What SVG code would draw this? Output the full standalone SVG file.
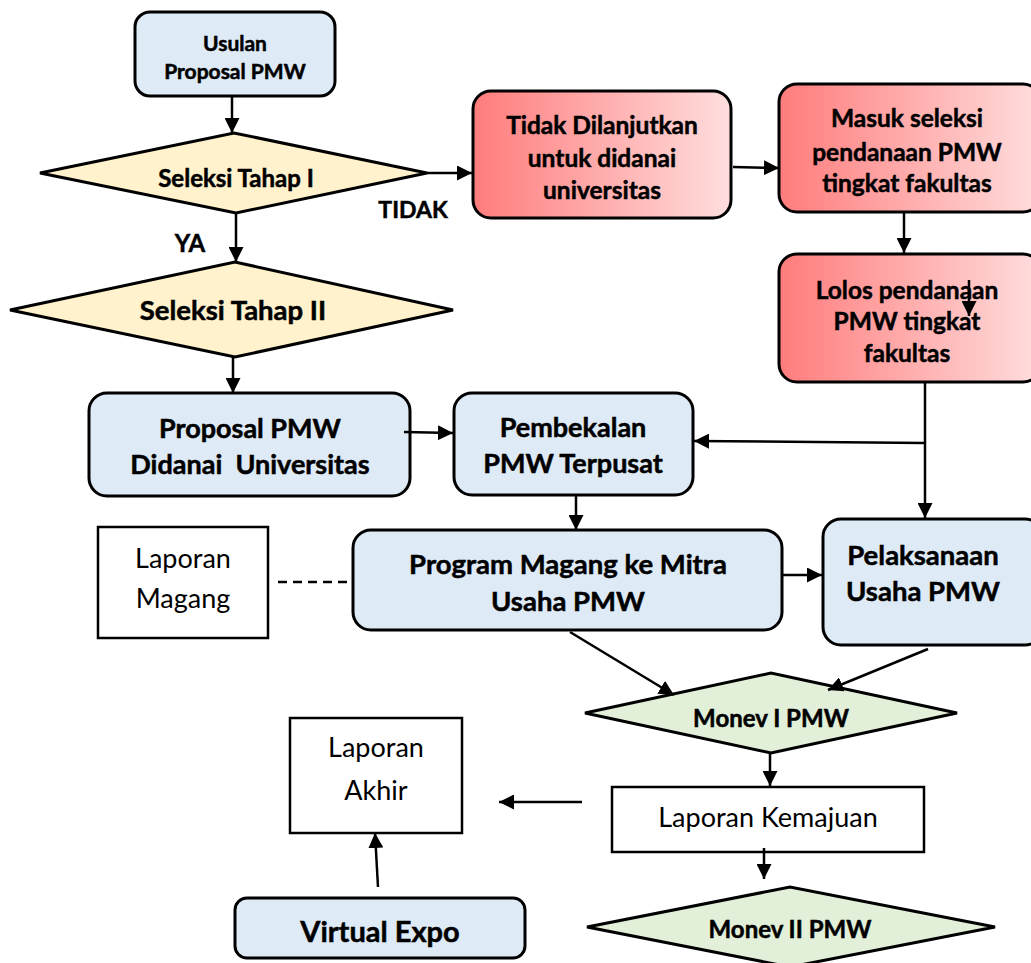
<svg xmlns="http://www.w3.org/2000/svg" width="1031" height="963" viewBox="0 0 1031 963">
<defs>
<linearGradient id="red" x1="0" y1="0" x2="1" y2="0">
<stop offset="0" stop-color="#ff7c7c"/>
<stop offset="1" stop-color="#ffdede"/>
</linearGradient>
<marker id="ah" viewBox="0 0 10 10" refX="10" refY="5" markerWidth="6" markerHeight="6" orient="auto" markerUnits="strokeWidth">
<path d="M0,0 L10,5 L0,10 z" fill="#000"/>
</marker>
</defs>
<style>
.b{fill:#deeaf6;stroke:#000;stroke-width:3}
.r{fill:url(#red);stroke:#000;stroke-width:3}
.y{fill:#fff2cc;stroke:#000;stroke-width:3}
.g{fill:#e2efd9;stroke:#000;stroke-width:3}
.w{fill:#fff;stroke:#000;stroke-width:2.5}
text{font-family:Lato,"Open Sans","Liberation Sans",sans-serif;text-anchor:middle;fill:#000}
.t{font-weight:bold;stroke:#000;stroke-width:0.5}
.n{font-weight:normal}
.c line,.c path{stroke:#000;stroke-width:2.5;fill:none}
.c .a{marker-end:url(#ah)}
</style>
<rect width="1031" height="963" fill="#fff"/>

<g id="usulan"><rect class="b" x="135" y="12" width="200" height="84" rx="15"/>
<text class="t" x="235" y="51" font-size="21">Usulan</text>
<text class="t" x="235" y="79" font-size="21">Proposal PMW</text></g>

<g id="seleksi1"><polygon class="y" points="40,173 234,133 427,173 236,213"/>
<text class="t" x="236" y="187" font-size="24">Seleksi Tahap I</text></g>

<g id="seleksi2"><polygon class="y" points="10,310 235,262 453,310 235,357"/>
<text class="t" x="233" y="320" font-size="27.5">Seleksi Tahap II</text></g>

<g id="tidak"><rect class="r" x="473" y="91" width="258" height="127" rx="18"/>
<text class="t" x="602" y="134" font-size="24.5">Tidak Dilanjutkan</text>
<text class="t" x="602" y="167" font-size="24.5">untuk didanai</text>
<text class="t" x="602" y="199" font-size="24.5">universitas</text></g>

<g id="masuk"><rect class="r" x="779" y="84" width="262" height="128" rx="18"/>
<text class="t" x="907" y="127" font-size="24.5">Masuk seleksi</text>
<text class="t" x="907" y="161" font-size="24.5">pendanaan PMW</text>
<text class="t" x="907" y="192" font-size="24.5">tingkat fakultas</text></g>

<g id="lolos"><rect class="r" x="779" y="254" width="262" height="128" rx="18"/>
<text class="t" x="907" y="299" font-size="24.5">Lolos pendanaan</text>
<text class="t" x="907" y="330" font-size="24.5">PMW tingkat</text>
<text class="t" x="907" y="362" font-size="24.5">fakultas</text></g>

<g id="proposal"><rect class="b" x="89" y="393" width="321" height="103" rx="18"/>
<text class="t" x="250" y="438" font-size="27">Proposal PMW</text>
<text class="t" x="250" y="474" font-size="27" xml:space="preserve">Didanai  Universitas</text></g>

<g id="pembekalan"><rect class="b" x="454" y="393" width="239" height="102" rx="18"/>
<text class="t" x="573" y="437" font-size="27">Pembekalan</text>
<text class="t" x="573" y="473" font-size="27">PMW Terpusat</text></g>

<g id="laporanmagang"><rect class="w" x="98" y="527" width="170" height="111"/>
<text class="n" x="183" y="568" font-size="27">Laporan</text>
<text class="n" x="183" y="608" font-size="27">Magang</text></g>

<g id="program"><rect class="b" x="353" y="530" width="429" height="100" rx="18"/>
<text class="t" x="568" y="574" font-size="27.5">Program Magang ke Mitra</text>
<text class="t" x="568" y="611" font-size="27.5">Usaha PMW</text></g>

<g id="pelaksanaan"><rect class="b" x="823" y="519" width="220" height="126" rx="18"/>
<text class="t" x="923" y="565" font-size="27.5">Pelaksanaan</text>
<text class="t" x="923" y="601" font-size="27.5">Usaha PMW</text></g>

<g id="monev1"><polygon class="g" points="585,713 771,673 957,713 771,753"/>
<text class="t" x="771" y="727" font-size="24">Monev I PMW</text></g>

<g id="laporanakhir"><rect class="w" x="290" y="718" width="172" height="115"/>
<text class="n" x="376" y="757" font-size="27">Laporan</text>
<text class="n" x="376" y="800" font-size="27">Akhir</text></g>

<g id="kemajuan"><rect class="w" x="612" y="787" width="312" height="65"/>
<text class="n" x="768" y="827" font-size="27">Laporan Kemajuan</text></g>

<g id="virtualexpo"><rect class="b" x="235" y="898" width="290" height="60" rx="12"/>
<text class="t" x="380" y="942" font-size="29">Virtual Expo</text></g>

<g id="monev2"><polygon class="g" points="587,927 790,887 995,927 790,967"/>
<text class="t" x="790" y="938" font-size="24">Monev II PMW</text></g>

<g id="labels">
<text class="t" x="413" y="218" font-size="23">TIDAK</text>
<text class="t" x="190" y="252" font-size="24">YA</text>
</g>

<g id="connectors" class="c">
<line class="a" x1="232" y1="96" x2="232" y2="133"/>
<line class="a" x1="427" y1="173" x2="472" y2="173"/>
<line class="a" x1="236" y1="213" x2="236" y2="262"/>
<line class="a" x1="233" y1="357" x2="233" y2="393"/>
<line class="a" x1="733" y1="167" x2="779" y2="168"/>
<line class="a" x1="904" y1="213" x2="904" y2="253"/>
<line class="a" x1="969" y1="280" x2="969" y2="316"/>
<line x1="925" y1="382" x2="925" y2="443"/>
<line class="a" x1="925" y1="443" x2="694" y2="441"/>
<line class="a" x1="925" y1="443" x2="925" y2="518"/>
<line class="a" x1="404" y1="432" x2="453" y2="433"/>
<line class="a" x1="576" y1="495" x2="576" y2="530"/>
<line class="a" x1="782" y1="575" x2="822" y2="575"/>
<line x1="278" y1="582" x2="350" y2="582" stroke-dasharray="9,6"/>
<line class="a" x1="570" y1="632" x2="674" y2="695"/>
<line class="a" x1="928" y1="649" x2="828" y2="690"/>
<line class="a" x1="770" y1="753" x2="770" y2="786"/>
<line class="a" x1="582" y1="802" x2="499" y2="802"/>
<line class="a" x1="378" y1="887" x2="375" y2="833"/>
<line class="a" x1="764" y1="848" x2="764" y2="879"/>
</g>
</svg>
